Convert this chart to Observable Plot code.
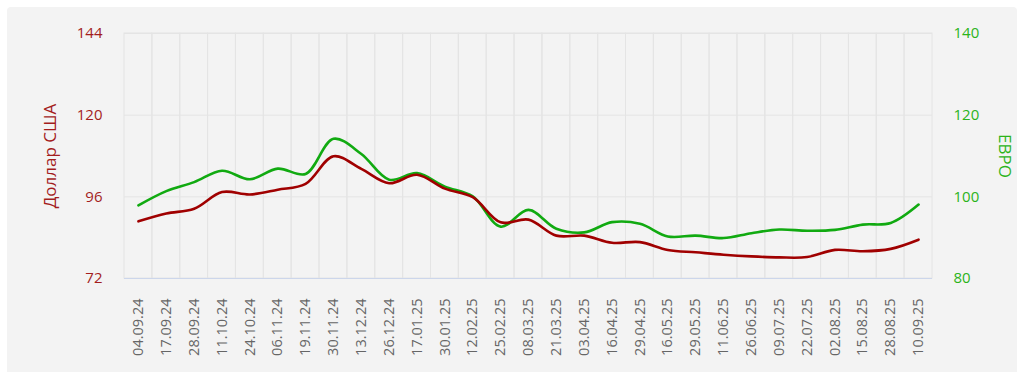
<!DOCTYPE html>
<html><head><meta charset="utf-8">
<script src="https://cdn.jsdelivr.net/npm/d3@7"></script>
<script src="https://cdn.jsdelivr.net/npm/@observablehq/plot@0.6"></script>
<style>
html,body{margin:0;padding:0;background:#fff;}
#wrap{position:relative;width:1024px;height:372px;overflow:hidden;}
#panel{position:absolute;left:7px;top:7px;width:1010px;height:380px;background:#f3f3f3;border-radius:4px;}
#chart{position:absolute;left:0;top:0;}
</style></head><body>
<div id="wrap"><div id="panel"></div><div id="chart"></div></div>
<script>
const dates = ["04.09.24","17.09.24","28.09.24","11.10.24","24.10.24","06.11.24","19.11.24","30.11.24","13.12.24","26.12.24","17.01.25","30.01.25","12.02.25","25.02.25","08.03.25","21.03.25","03.04.25","16.04.25","29.04.25","16.05.25","29.05.25","11.06.25","26.06.25","09.07.25","22.07.25","02.08.25","15.08.25","28.08.25","10.09.25"];
const usd = [88.8,91.1,92.5,97.4,96.7,98.1,99.8,107.9,104.2,100.0,102.5,98.4,95.9,88.5,89.3,84.6,84.6,82.5,82.7,80.4,79.7,79.0,78.5,78.2,78.3,80.4,80.0,80.7,83.4];
const eur = [97.9,101.4,103.6,106.4,104.3,106.9,105.6,114.2,110.5,104.2,105.8,102.5,100.1,92.7,96.8,92.2,91.3,93.8,93.4,90.3,90.5,89.9,91.1,92.0,91.7,91.9,93.2,93.6,98.1];
const usdTicks = [72,96,120,144];
const eurTicks = [80,100,120,140];
const usdTitle = "Доллар США";
const eurTitle = "ЕВРО";

const eurToUsd = v => 72 + (v - 80) * 1.2;
const usdToEur = v => 80 + (v - 72) / 1.2;
const usdData = dates.map((d, i) => ({d, v: usd[i]}));
const eurData = dates.map((d, i) => ({d, v: eurToUsd(eur[i])}));

const red = "#a00000", redText = "#a31d1d", green = "#11aa11", greenText = "#2bb31a";

const chart = Plot.plot({
  width: 1024, height: 372,
  marginLeft: 124, marginRight: 92, marginTop: 33, marginBottom: 94,
  style: {background: "transparent", fontFamily: "'Open Sans', sans-serif"},
  x: {type: "band", domain: dates, padding: 0, round: false, label: null},
  y: {domain: [72, 144], label: null},
  marks: [
    Plot.cell(dates, {x: d => d, fill: "none", stroke: "#e4e4e4", strokeWidth: 1}),
    Plot.ruleY(usdTicks.slice(1), {stroke: "#e4e4e4"}),
    Plot.ruleY([72], {stroke: "#ccd6eb"}),
    Plot.line(eurData, {x: "d", y: "v", stroke: green, strokeWidth: 2.6, curve: "catmull-rom"}),
    Plot.line(usdData, {x: "d", y: "v", stroke: red, strokeWidth: 2.6, curve: "catmull-rom"}),
    Plot.axisY({ticks: usdTicks, tickSize: 0, tickPadding: 22, fontSize: 15, color: redText, label: null}),
    Plot.axisY({anchor: "right", ticks: eurTicks.map(eurToUsd), tickFormat: d => String(Math.round(usdToEur(d))), tickSize: 0, tickPadding: 21, fontSize: 15, color: greenText, label: null}),
    Plot.axisX({tickRotate: -90, tickSize: 0, tickPadding: 20, fontSize: 14.5, color: "#666", label: null}),
    Plot.text([usdTitle], {frameAnchor: "left", dx: -74, rotate: -90, textAnchor: "middle", fontSize: 17, fill: redText, text: d => d}),
    Plot.text([eurTitle], {frameAnchor: "right", dx: 72, rotate: 90, textAnchor: "middle", fontSize: 17, fill: greenText, text: d => d})
  ]
});
document.getElementById("chart").appendChild(chart);
</script>
</body></html>
